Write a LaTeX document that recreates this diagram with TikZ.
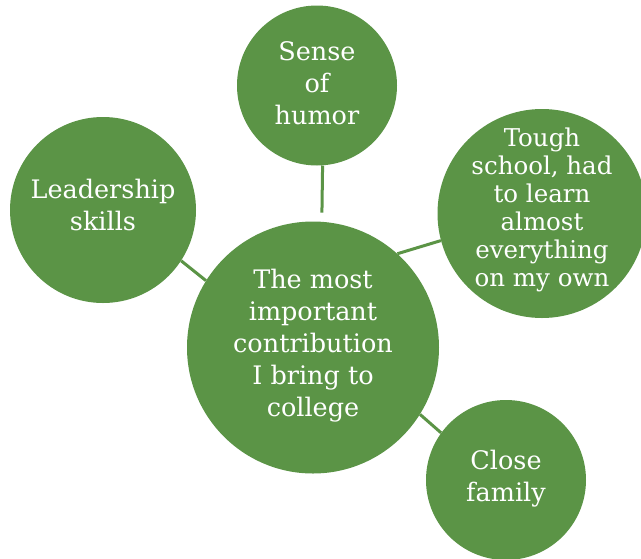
\documentclass[tikz,border=0pt]{standalone}
\usepackage{fontspec}
\setmainfont{DejaVu Serif}
\definecolor{bubblegreen}{RGB}{91,148,70}
\begin{document}
\begin{tikzpicture}[x=1pt, y=-1pt]
        % Style des bulles
        \tikzstyle{bubble} = [circle, fill=bubblegreen, inner sep=0pt]
        \tikzstyle{bubtext} = [text=white, align=center, inner sep=0pt, yshift=4pt, font=\fontsize{25.5}{32}\selectfont]
        \tikzstyle{link} = [draw=bubblegreen, line width=3pt]

        \useasboundingbox (0,0) rectangle (641,558);

        % Bulles
        \node[bubble, minimum size=252pt, label={[bubtext, yshift=-2pt]center:{The most\\important\\contribution\\I bring to\\college}}] (hub) at (313,347.5) {};
        \node[bubble, minimum size=160pt, label={[bubtext, yshift=-2pt]center:{Sense\\of\\humor}}] (humor) at (317,85.5) {};
        \node[bubble, minimum size=186pt, label={[bubtext, yshift=1pt]center:{Leadership\\skills}}] (lead) at (103,210) {};
        \node[bubble, minimum size=209pt, label={[bubtext, font=\fontsize{24.5}{28}\selectfont]center:{Tough\\school, had\\to learn\\almost\\everything\\on my own}}] (tough) at (542,213.5) {};
        \node[bubble, minimum size=160pt, label={[bubtext, yshift=-3pt]center:{Close\\family}}] (family) at (506,480) {};

        % Traits vers le centre
        \draw[link, shorten >=9pt] (humor.274) -- (hub.86);
        \draw[link] (lead.-33) -- (hub.148);
        \draw[link] (tough.195) -- (hub.48);
        \draw[link] (family.144) -- (hub.-32.5);

    \end{tikzpicture}
\end{document}
